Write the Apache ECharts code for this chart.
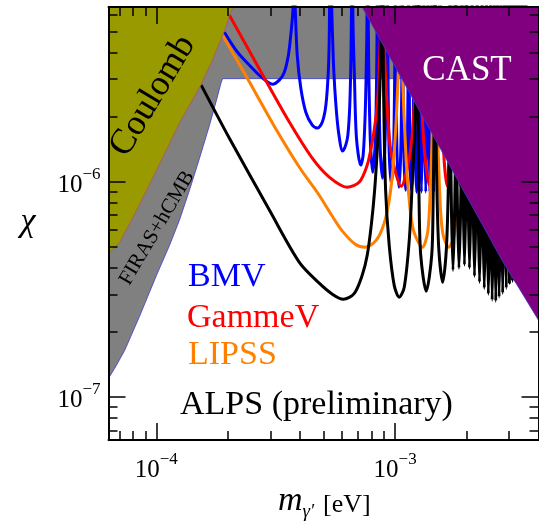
<!DOCTYPE html>
<html>
<head>
<meta charset="utf-8">
<script src="https://cdn.jsdelivr.net/npm/echarts@6/dist/echarts.min.js"></script>
<style>
  html, body { margin: 0; padding: 0; background: #fff; }
  #chart { width: 539px; height: 524px; }
</style>
</head>
<body>
<div id="chart"></div>
<script>
// axis ranges in decades: log10(m / eV) and log10(chi)
const xRange = [-4.2, -2.4];
const yRange = [-7.2, -5.187];

const xMajorTicks = [1e-4, 1e-3];
const xMinorTicks = [7e-5, 8e-5, 9e-5, 2e-4, 3e-4, 4e-4, 5e-4, 6e-4, 7e-4, 8e-4, 9e-4, 2e-3, 3e-3];
const yMajorTicks = [1e-7, 1e-6];
const yMinorTicks = [7e-8, 8e-8, 9e-8, 2e-7, 3e-7, 4e-7, 5e-7, 6e-7, 7e-7, 8e-7, 9e-7, 2e-6, 3e-6, 4e-6, 5e-6, 6e-6];

// sensitivity curves, [log10 m, log10 chi]
// (resonance peaks run off the top, -4.97 is just above the frame)
const bmv = [
  [-3.715,-5.304],[-3.660,-5.397],[-3.602,-5.467],[-3.560,-5.513],[-3.514,-5.546],[-3.485,-5.527],[-3.464,-5.490],[-3.447,-5.411],[-3.437,-5.318],[-3.428,-5.201],[-3.424,-4.97],
  [-3.418,-5.201],[-3.410,-5.411],[-3.395,-5.564],[-3.374,-5.676],[-3.347,-5.736],[-3.325,-5.750],[-3.305,-5.722],[-3.290,-5.643],[-3.280,-5.490],[-3.276,-5.332],[-3.272,-4.97],
  [-3.263,-5.294],[-3.257,-5.481],[-3.248,-5.643],[-3.237,-5.769],[-3.220,-5.857],[-3.207,-5.829],[-3.198,-5.783],[-3.190,-5.643],[-3.185,-5.411],[-3.180,-4.97],
  [-3.176,-5.294],[-3.171,-5.490],[-3.162,-5.797],[-3.144,-5.922],[-3.134,-5.876],[-3.125,-5.666],[-3.119,-5.341],[-3.115,-4.97],
  [-3.111,-5.443],[-3.104,-5.806],[-3.094,-5.955],[-3.083,-5.806],[-3.077,-5.443],[-3.073,-4.97],
  [-3.069,-5.471],[-3.063,-5.834],[-3.053,-5.983],[-3.043,-5.834],[-3.037,-5.471],[-3.033,-4.97],
  [-3.030,-5.499],[-3.025,-5.862],[-3.016,-6.011],[-3.007,-5.862],[-3.002,-5.499],[-2.999,-4.97],
  [-2.996,-5.513],[-2.992,-5.876],[-2.984,-6.025],[-2.977,-5.876],[-2.972,-5.513],[-2.970,-4.97],
  [-2.967,-5.527],[-2.963,-5.890],[-2.956,-6.039],[-2.950,-5.890],[-2.946,-5.527],[-2.944,-4.97],
  [-2.941,-5.532],[-2.938,-5.894],[-2.932,-6.043],[-2.926,-5.894],[-2.923,-5.532],[-2.921,-4.97],
  [-2.918,-5.536],[-2.915,-5.899],[-2.910,-6.048],[-2.905,-5.899],[-2.902,-5.536],[-2.900,-4.97],
  [-2.898,-5.536],[-2.890,-6.048],[-2.882,-5.536],[-2.880,-4.97],
  [-2.879,-5.536],[-2.872,-6.048],[-2.865,-5.536],[-2.863,-4.97],
  [-2.861,-5.536],[-2.855,-6.048],[-2.849,-5.536],[-2.847,-4.97],
  [-2.846,-5.536],[-2.839,-6.048],[-2.833,-5.536],[-2.832,-4.97]
];

const gammev = [
  [-3.694,-5.225],[-3.568,-5.476],[-3.443,-5.722],[-3.347,-5.890],[-3.276,-5.978],[-3.201,-6.025],[-3.150,-6.001],[-3.117,-5.922],[-3.100,-5.839],[-3.088,-5.760],[-3.075,-5.643],[-3.065,-5.434],[-3.054,-4.97],
  [-3.046,-5.341],[-3.035,-5.620],[-3.017,-5.862],[-2.975,-6.020],[-2.937,-5.862],[-2.919,-5.620],[-2.908,-5.341],[-2.900,-4.97],
  [-2.894,-5.341],[-2.889,-5.620],[-2.877,-5.862],[-2.856,-6.020],[-2.834,-5.862],[-2.822,-5.620],[-2.817,-5.341],[-2.812,-4.97],
  [-2.806,-5.508],[-2.797,-5.862],[-2.782,-6.020],[-2.767,-5.862],[-2.758,-5.508],[-2.752,-4.97],
  [-2.747,-5.508],[-2.740,-5.862],[-2.727,-6.020],[-2.715,-5.862],[-2.708,-5.508],[-2.703,-4.97]
];

const lipss = [
  [-3.722,-5.318],[-3.610,-5.536],[-3.506,-5.741],[-3.401,-5.932],[-3.318,-6.062],[-3.263,-6.160],[-3.221,-6.229],[-3.167,-6.290],[-3.125,-6.304],[-3.079,-6.271],[-3.046,-6.192],[-3.025,-6.085],[-3.010,-5.946],[-2.998,-5.760],[-2.990,-5.573],[-2.981,-5.294],[-2.977,-4.97],
  [-2.971,-5.434],[-2.954,-5.899],[-2.937,-6.132],[-2.921,-6.234],[-2.886,-6.304],[-2.864,-6.234],[-2.854,-6.062],[-2.846,-5.806],[-2.841,-5.481],[-2.837,-4.97],
  [-2.831,-5.434],[-2.820,-5.853],[-2.810,-6.132],[-2.799,-6.248],[-2.776,-6.304],[-2.753,-6.248],[-2.745,-6.085],[-2.739,-5.760],[-2.735,-5.434],[-2.732,-4.97]
];

const alps = [
  [-3.812,-5.550],[-3.694,-5.797],[-3.526,-6.132],[-3.401,-6.374],[-3.318,-6.471],[-3.263,-6.522],[-3.217,-6.546],[-3.171,-6.518],[-3.138,-6.434],[-3.117,-6.341],[-3.100,-6.201],[-3.086,-6.039],[-3.075,-5.853],[-3.067,-5.666],[-3.061,-5.434],[-3.054,-4.97],
  [-3.048,-5.620],[-3.040,-6.039],[-3.025,-6.294],[-3.004,-6.481],[-2.983,-6.536],[-2.962,-6.490],[-2.941,-6.271],[-2.929,-6.015],[-2.918,-5.760],[-2.912,-5.434],[-2.908,-4.97],
  [-2.904,-5.713],[-2.900,-6.085],[-2.893,-6.341],[-2.870,-6.508],[-2.847,-6.341],[-2.841,-6.085],[-2.837,-5.713],[-2.833,-4.97],
  [-2.829,-5.755],[-2.825,-6.048],[-2.817,-6.318],[-2.801,-6.467],[-2.786,-6.318],[-2.778,-6.048],[-2.774,-5.755],[-2.770,-4.97],
  [-2.767,-5.899],[-2.758,-6.411],[-2.748,-5.899],[-2.745,-4.97],
  [-2.742,-5.890],[-2.733,-6.401],[-2.723,-5.890],[-2.720,-4.97],
  [-2.717,-5.876],[-2.710,-6.387],[-2.702,-5.876],[-2.699,-4.97],
  [-2.696,-5.890],[-2.689,-6.401],[-2.681,-5.890],[-2.678,-4.97],
  [-2.675,-5.927],[-2.668,-6.439],[-2.660,-5.927],[-2.657,-4.97],
  [-2.654,-5.955],[-2.647,-6.467],[-2.639,-5.955],[-2.636,-4.97],
  [-2.634,-5.983],[-2.627,-6.495],[-2.620,-5.983],[-2.618,-4.97],
  [-2.616,-6.011],[-2.610,-6.522],[-2.603,-6.011],[-2.601,-4.97],
  [-2.599,-6.039],[-2.594,-6.550],[-2.588,-6.039],[-2.586,-4.97],
  [-2.584,-6.043],[-2.579,-6.555],[-2.574,-6.043],[-2.572,-4.97],
  [-2.570,-6.025],[-2.565,-6.536],[-2.559,-6.025],[-2.557,-4.97],
  [-2.555,-6.006],[-2.550,-6.518],[-2.544,-6.006],[-2.542,-4.97],
  [-2.540,-5.983],[-2.535,-6.495],[-2.530,-5.983],[-2.528,-4.97],
  [-2.526,-5.960],[-2.522,-6.471],[-2.517,-5.960],[-2.515,-4.97],
  [-2.514,-5.950],[-2.509,-6.462],[-2.504,-5.950],[-2.503,-4.97],
  [-2.501,-5.950],[-2.497,-6.462],[-2.492,-5.950],[-2.490,-4.97],
  [-2.489,-5.960],[-2.484,-6.471],[-2.479,-5.960],[-2.478,-4.97],
  [-2.476,-5.974],[-2.472,-6.485],[-2.467,-5.974],[-2.465,-4.97],
  [-2.463,-5.992],[-2.459,-6.504],[-2.454,-5.992],[-2.452,-4.97]
];

// excluded regions, polygon outlines in the same units
const coulomb = [[-4.2,-6.332],[-4.153,-6.281],[-4.082,-6.132],[-3.999,-5.946],[-3.903,-5.727],[-3.812,-5.546],[-3.765,-5.434],[-3.722,-5.318],[-3.710,-5.285],[-3.694,-5.225],[-3.677,-5.187],[-4.2,-5.187]];
const firas = [[-4.2,-6.913],[-4.174,-6.867],[-4.132,-6.783],[-4.070,-6.625],[-3.999,-6.434],[-3.944,-6.294],[-3.903,-6.178],[-3.861,-6.039],[-3.819,-5.890],[-3.777,-5.736],[-3.748,-5.620],[-3.728,-5.536],[-3.722,-5.520],[-2.941,-5.520],[-2.941,-5.187],[-4.2,-5.187]];
const cast = [[-3.138,-5.187],[-2.900,-5.666],[-2.553,-6.364],[-2.4,-6.643],[-2.4,-5.187]];

const serif = 'Liberation Serif';
const chart = echarts.init(document.getElementById('chart'));

function powLabel(v) {
  return '{b|10}{s|\u2212' + Math.round(-v) + '}';
}
const labelRich = {
  b: { fontFamily: serif, fontSize: 25, color: '#000', lineHeight: 32, verticalAlign: 'bottom' },
  s: { fontFamily: serif, fontSize: 17, color: '#000', lineHeight: 17, verticalAlign: 'top' }
};

function axis(range, position, ticks, len, showLine, labels, margin) {
  const vals = ticks.map(Math.log10);
  return {
    type: 'value', position, min: range[0], max: range[1], z: 50,
    splitLine: { show: false },
    axisLine: { show: showLine, onZero: false, lineStyle: { color: '#000', width: 2 } },
    axisTick: { show: true, inside: true, length: len, customValues: vals, lineStyle: { color: '#000', width: 1.5 } },
    axisLabel: labels
      ? { show: true, customValues: vals, formatter: powLabel, rich: labelRich, margin }
      : { show: false }
  };
}

function region(pts, fill, stroke, z) {
  return {
    type: 'custom', z, silent: true, clip: true,
    data: [0],
    renderItem: (params, api) => ({
      type: 'polygon',
      shape: { points: pts.map(p => api.coord(p)) },
      style: { fill, stroke, lineWidth: 0.8 }
    })
  };
}

function curve(pts, color) {
  return {
    type: 'line', z: 3, data: pts, showSymbol: false, symbol: 'none', silent: true, clip: true,
    smooth: 0.3,
    lineStyle: { color, width: 3 }
  };
}

function label(text, x, y, fontSize, color, opts) {
  const o = opts || {};
  const align = o.align || 'left';
  return {
    type: 'text', x, y, z: 100, rotation: o.rotation || 0, silent: true,
    style: {
      text, fill: color,
      font: (o.italic ? 'italic ' : '') + fontSize + 'px "' + serif + '"',
      align, textAlign: align, verticalAlign: 'middle', textVerticalAlign: 'middle'
    }
  };
}

chart.setOption({
  animation: false,
  backgroundColor: '#fff',
  grid: { left: 108.5, top: 7, width: 430, height: 433 },
  xAxis: [
    axis(xRange, 'bottom', xMajorTicks, 17, true, true, 11),
    axis(xRange, 'bottom', xMinorTicks, 9, false, false),
    axis(xRange, 'top', xMajorTicks, 17, true, false),
    axis(xRange, 'top', xMinorTicks, 9, false, false)
  ],
  yAxis: [
    axis(yRange, 'left', yMajorTicks, 17, true, true, 8),
    axis(yRange, 'left', yMinorTicks, 9, false, false),
    axis(yRange, 'right', yMajorTicks, 17, true, false),
    axis(yRange, 'right', yMinorTicks, 9, false, false)
  ],
  series: [
    region(firas, '#808080', '#3a3ad0', 1),
    curve(bmv, '#0000ff'),
    curve(gammev, '#ff0000'),
    curve(lipss, '#ff8000'),
    curve(alps, '#000000'),
    region(coulomb, '#999900', '#b05070', 6),
    region(cast, '#800080', '#3a3ad0', 7)
  ],
  graphic: [
    label('CAST', 467, 71, 35, '#fff', { align: 'center' }),
    label('Coulomb', 153, 96, 36, '#000', { align: 'center', rotation: 59 * Math.PI / 180 }),
    label('FIRAS+hCMB', 157, 228, 21, '#000', { align: 'center', rotation: 59.5 * Math.PI / 180 }),
    label('BMV', 188, 277, 34, '#0000ff'),
    label('GammeV', 187, 318.5, 34, '#ff0000'),
    label('LIPSS', 188, 355, 34, '#ff8000'),
    label('ALPS (preliminary)', 180, 405.5, 34, '#000'),
    label('\u03c7', 28, 222, 34, '#000', { align: 'center', italic: true }),
    label('m', 278, 501.5, 34, '#000', { italic: true }),
    label('\u03b3\u2032', 302.5, 511.5, 19, '#000', { italic: true }),
    label('[eV]', 323, 505, 26, '#000')
  ]
});
</script>
</body>
</html>
